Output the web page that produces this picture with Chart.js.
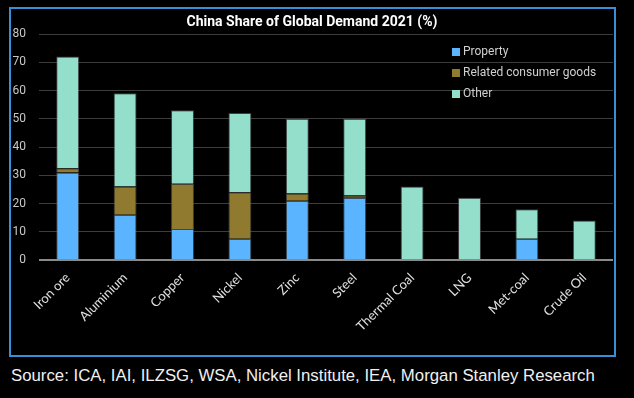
<!DOCTYPE html>
<html>
<head>
<meta charset="utf-8">
<script src="https://cdn.jsdelivr.net/npm/chart.js@4"></script>
<style>
  body { margin: 0; background: #000; width: 634px; height: 398px; position: relative; overflow: hidden; }
  #box { position: absolute; left: 9px; top: 7px; width: 603px; height: 346px; border: 2px solid #3a8ed6; }
  #box canvas { display: block; }
  #source { position: absolute; left: 11px; top: 366px; color: #f0f0f0; font: 16.8px "Liberation Sans", Arial, sans-serif; white-space: nowrap; }
</style>
</head>
<body>
<div id="box"><canvas id="chart" width="603" height="346"></canvas></div>
<div id="source">Source: ICA, IAI, ILZSG, WSA, Nickel Institute, IEA, Morgan Stanley Research</div>
<script>
const categories = ["Iron ore", "Aluminium", "Copper", "Nickel", "Zinc", "Steel", "Thermal Coal", "LNG", "Met-coal", "Crude Oil"];
const property = [31, 16, 11, 7.5, 21, 22, null, null, 7.5, null];
const related = [1.5, 10, 16, 16.5, 2.5, 0.8, null, null, null, null];
const other = [39.5, 33, 26, 28, 26.5, 27.2, 26, 22, 10.5, 14];
const yTicks = [0, 10, 20, 30, 40, 50, 60, 70, 80];

// legend drawn as a list in the top right of the plot
const sideLegend = {
    id: "sideLegend",
    afterDraw(c) {
        const ctx = c.ctx;
        const x = c.chartArea.left + 413;
        let y = c.chartArea.top + 18;
        ctx.save();
        ctx.font = "12px Roboto";
        ctx.textBaseline = "middle";
        c.data.datasets.forEach(ds => {
            ctx.fillStyle = ds.backgroundColor;
            ctx.fillRect(x, y - 4, 8, 8);
            ctx.fillStyle = "#d0d0d0";
            ctx.fillText(ds.label, x + 11, y);
            y += 21;
        });
        ctx.restore();
    }
};

new Chart(document.getElementById("chart"), {
    type: "bar",
    data: {
        labels: categories,
        datasets: [
            { label: "Property", data: property, backgroundColor: "#5ab4ff" },
            { label: "Related consumer goods", data: related, backgroundColor: "#8f7a2f" },
            { label: "Other", data: other, backgroundColor: "#94dfcc" }
        ]
    },
    options: {
        responsive: false,
        animation: false,
        layout: { padding: { top: 0, right: 1, left: 0, bottom: 0 } },
        datasets: {
            bar: { barPercentage: 0.4, categoryPercentage: 1, borderWidth: 1, borderColor: "rgba(90,90,90,0.7)" }
        },
        plugins: {
            legend: { display: false },
            tooltip: { enabled: false },
            title: {
                display: true,
                text: "China Share of Global Demand 2021 (%)",
                color: "#ffffff",
                font: { family: "Roboto", size: 14, weight: "bold" },
                padding: { top: 5, bottom: 3.2 }
            }
        },
        scales: {
            x: {
                stacked: true,
                grid: { display: false },
                border: { display: false },
                ticks: {
                    color: "#e0e0e0",
                    font: { family: "Lato", size: 13 },
                    minRotation: 45,
                    maxRotation: 45,
                    padding: 2
                },
                afterFit(s) { s.height = 95; }
            },
            y: {
                stacked: true,
                min: 0,
                max: 80,
                afterBuildTicks(s) { s.ticks = yTicks.map(v => ({ value: v })); },
                grid: {
                    drawTicks: false,
                    color: ctx => ctx.tick && ctx.tick.value === 0 ? "#8a8a8a" : "#3d3d3d",
                    lineWidth: ctx => ctx.tick && ctx.tick.value === 0 ? 2 : 1
                },
                border: { display: false },
                ticks: {
                    color: "#c8c8c8",
                    font: { family: "Roboto", size: 12 },
                    padding: 13
                },
                afterFit(s) { s.width = 28; }
            }
        }
    },
    plugins: [sideLegend]
});
</script>
</body>
</html>
